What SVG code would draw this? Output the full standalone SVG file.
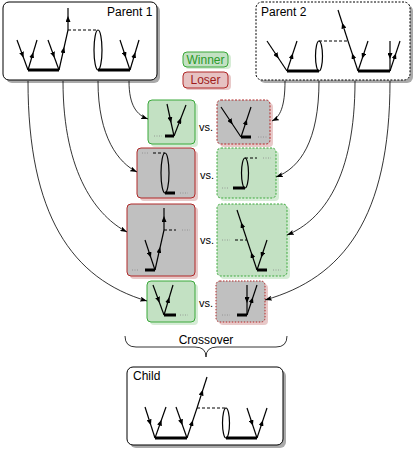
<svg xmlns="http://www.w3.org/2000/svg" width="415" height="452" viewBox="0 0 415 452">
<defs>
<marker id="a" viewBox="0 0 6 5" refX="3" refY="2.5" markerWidth="6" markerHeight="5" markerUnits="userSpaceOnUse" orient="auto"><path d="M0,0 L6,2.5 L0,5 z" fill="#000"/></marker>
<marker id="c" viewBox="0 0 7 5" refX="7" refY="2.5" markerWidth="7" markerHeight="5" markerUnits="userSpaceOnUse" orient="auto"><path d="M0,0 L7,2.5 L0,5 L1.4,2.5 z" fill="#000"/></marker>
</defs>
<style>
text{font-family:"Liberation Sans",Arial,sans-serif;font-size:12px;fill:#000}
.vs{font-size:11px;text-anchor:middle}
.f{fill:none;stroke:#000;stroke-width:1.2;marker-mid:url(#a)}
.t{fill:none;stroke:#000;stroke-width:3}
.d{fill:none;stroke:#000;stroke-width:1;stroke-dasharray:3,2}
.e{fill:none;stroke:#000;stroke-width:1.2}
.o{fill:none;stroke:#888;stroke-width:0.8;stroke-dasharray:1,1.5}
.sh{fill:#aaa}
.box{fill:#fff;stroke:#000;stroke-width:1}
.gw{fill:#c3e1c3;stroke:#3aa83a;stroke-width:1}
.gl{fill:#c0c0c0;stroke:#b02828;stroke-width:1}
.dash{stroke-dasharray:2,1.5}
.shg{fill:#d6ecd6}
.shr{fill:#e8c9c9}
.con{fill:none;stroke:#000;stroke-width:0.8;marker-end:url(#c)}
</style>

<g id="parent1">
<rect class="sh" x="6" y="5" width="154" height="78" rx="6"/>
<rect class="box" x="3" y="2" width="154" height="78" rx="6"/>
<text x="107" y="16">Parent 1</text>
<path class="f" d="M17,40 L22.5,55 L28,70"/>
<path class="f" d="M28,70 L32.5,55 L37,40"/>
<path class="f" d="M48,40 L53.5,55 L59,70"/>
<path class="f" d="M59,70 L63.5,50 L68,30"/>
<path class="f" d="M68,30 L68,19 L68,8"/>
<path class="f" d="M120,40 L125,55 L130,70"/>
<path class="f" d="M130,70 L134.5,55 L139,40"/>
<path class="t" d="M28,70 H59 M98,70 H130"/>
<path class="d" d="M68,30 H98"/>
<ellipse class="e" cx="98" cy="50" rx="4" ry="20"/>
</g>

<g id="parent2">
<rect class="sh" x="259" y="5" width="154" height="78" rx="6"/>
<rect class="box dash" x="256" y="2" width="154" height="78" rx="6"/>
<text x="261" y="16">Parent 2</text>
<path class="f" d="M267,41 L277,56 L287,71"/>
<path class="f" d="M287,71 L292,56 L297,41"/>
<path class="f" d="M358,71 L353,56 L348,41"/>
<path class="f" d="M348,41 L343,25.5 L338,10"/>
<path class="f" d="M368,41 L363,56 L358,71"/>
<path class="f" d="M390,41 L390,56 L390,71"/>
<path class="f" d="M390,71 L395,56 L400,41"/>
<path class="t" d="M287,71 H319 M358,71 H390"/>
<path class="d" d="M319,41 H348"/>
<ellipse class="e" cx="319" cy="56" rx="3.5" ry="15"/>
</g>

<g id="legend-winner">
<rect class="shg" x="185" y="54" width="46" height="15" rx="4"/>
<rect class="gw" x="183" y="52" width="45" height="15" rx="4"/>
<text x="205.5" y="63.5" text-anchor="middle" style="fill:#2a9a2a">Winner</text>
</g>
<g id="legend-loser">
<rect class="shr" x="185" y="74" width="46" height="16" rx="4"/>
<rect x="183" y="72" width="45" height="16" rx="4" style="fill:#e6c2c2;stroke:#b02828;stroke-width:1"/>
<text x="205.5" y="84" text-anchor="middle" style="fill:#a01c1c">Loser</text>
</g>

<g id="row1-left">
<rect class="shg" x="151" y="103" width="47" height="44" rx="4"/>
<rect class="gw" x="148" y="100" width="47" height="44" rx="4"/>
<path class="f" d="M167,104 L170.5,120 L174,136"/>
<path class="f" d="M174,136 L180,120.5 L186,105"/>
<path class="t" d="M165,136 H174"/>
<path class="o" d="M154,136 H162"/>
</g>
<text class="vs" x="206" y="131">vs.</text>
<g id="row1-right">
<rect class="shr" x="220" y="103" width="53" height="44" rx="4"/>
<rect class="gl dash" x="217" y="100" width="53" height="44" rx="4"/>
<path class="f" d="M221,107 L231,122 L241,137"/>
<path class="f" d="M241,137 L246,122 L251,107"/>
<path class="t" d="M241,137 H251"/>
<path class="o" d="M258,137 H267"/>
</g>

<g id="row2-left">
<rect class="shr" x="140" y="151" width="58" height="50" rx="4"/>
<rect class="gl" x="137" y="148" width="58" height="50" rx="4"/>
<path class="o" d="M142,153 H149"/>
<path class="d" d="M153,153 H165"/>
<ellipse class="e" cx="165" cy="173" rx="4" ry="20"/>
<path class="t" d="M165,193 H175"/>
<path class="o" d="M180,193 H188"/>
</g>
<text class="vs" x="207" y="179">vs.</text>
<g id="row2-right">
<rect class="shg" x="220" y="151" width="59" height="50" rx="4"/>
<rect class="gw dash" x="217" y="148" width="59" height="50" rx="4"/>
<path class="o" d="M222,188 H229"/>
<path class="t" d="M233,188 H245"/>
<ellipse class="e" cx="245" cy="173" rx="3.5" ry="15"/>
<path class="d" d="M245,158 H257"/>
<path class="o" d="M263,158 H271"/>
</g>

<g id="row3-left">
<rect class="shr" x="130" y="207" width="68" height="72" rx="4"/>
<rect class="gl" x="127" y="204" width="68" height="72" rx="4"/>
<path class="f" d="M145,240 L150,255 L155,270"/>
<path class="f" d="M155,270 L159.5,250 L164,230"/>
<path class="f" d="M164,230 L164,219 L164,208"/>
<path class="t" d="M145,270 H155"/>
<path class="d" d="M164,230 H176"/>
<path class="o" d="M132,270 H139 M182,230 H190"/>
</g>
<text class="vs" x="207" y="244">vs.</text>
<g id="row3-right">
<rect class="shg" x="220" y="207" width="70" height="72" rx="4"/>
<rect class="gw dash" x="217" y="204" width="70" height="72" rx="4"/>
<path class="f" d="M257,270 L252,255 L247,240"/>
<path class="f" d="M247,240 L242,225 L237,210"/>
<path class="f" d="M267,240 L262,255 L257,270"/>
<path class="t" d="M257,270 H267"/>
<path class="d" d="M235,240 H247"/>
<path class="o" d="M222,240 H230 M273,270 H281"/>
</g>

<g id="row4-left">
<rect class="shg" x="150" y="284" width="48" height="41" rx="4"/>
<rect class="gw" x="147" y="281" width="48" height="41" rx="4"/>
<path class="f" d="M153,285 L158.5,300 L164,315"/>
<path class="f" d="M164,315 L168.5,300 L173,285"/>
<path class="t" d="M164,315 H176"/>
<path class="o" d="M180,315 H188"/>
</g>
<text class="vs" x="206" y="307">vs.</text>
<g id="row4-right">
<rect class="shr" x="219" y="284" width="49" height="41" rx="4"/>
<rect class="gl" x="216" y="281" width="49" height="41" rx="4" style="stroke-dasharray:1.5,1.5"/>
<path class="f" d="M247,285 L247,300 L247,315"/>
<path class="f" d="M247,315 L252,300 L257,285"/>
<path class="t" d="M237,315 H247"/>
<path class="o" d="M222,315 H230"/>
</g>

<g id="connectors">
<path class="con" d="M28,81 C28,215 72,279 147,301"/>
<path class="con" d="M63,81 C63,175 98,217 127,232"/>
<path class="con" d="M98,81 C98,138 119,163 137,172"/>
<path class="con" d="M129,81 C129,106 137,115 148,119"/>
<path class="con" d="M285,81 C285,107 280,117 272,121"/>
<path class="con" d="M319,81 C319,141 300,168 276,177"/>
<path class="con" d="M355,81 C355,178 323,220 287,235"/>
<path class="con" d="M390,81 C390,218 343,278 265,300"/>
</g>

<g id="crossover">
<path d="M125,336 Q125,347 136,347 L195,347 Q206,347 206,357 Q206,347 217,347 L276,347 Q287,347 287,336" fill="none" stroke="#000" stroke-width="0.8"/>
<text x="206" y="344" text-anchor="middle">Crossover</text>
</g>

<g id="child">
<rect class="sh" x="130" y="370" width="156" height="78" rx="6"/>
<rect class="box" x="127" y="367" width="156" height="78" rx="6"/>
<text x="133" y="380">Child</text>
<path class="f" d="M145,407 L150,422.5 L155,438"/>
<path class="f" d="M155,438 L160.5,422.5 L166,407"/>
<path class="f" d="M176,407 L181.5,422.5 L187,438"/>
<path class="f" d="M187,438 L192,423 L197,408"/>
<path class="f" d="M197,408 L202,392.5 L207,377"/>
<path class="f" d="M247,408 L252,423 L257,438"/>
<path class="f" d="M257,438 L262,423 L267,408"/>
<path class="t" d="M155,438 H187 M226,438 H257"/>
<path class="d" d="M197,408 H226"/>
<ellipse class="e" cx="226" cy="423" rx="3.5" ry="15"/>
</g>
</svg>
